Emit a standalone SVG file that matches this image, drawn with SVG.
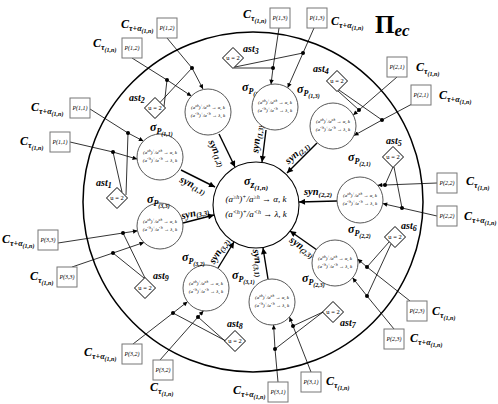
<svg xmlns="http://www.w3.org/2000/svg" xmlns:xlink="http://www.w3.org/1999/xlink" width="498" height="404" viewBox="0 0 498 404">
<style>
text{font-family:"Liberation Serif","DejaVu Serif",serif;fill:#000}
.lbl{font-weight:bold;font-style:italic;font-size:12px}
.s1{font-size:8px}
.s2{font-size:6px}
.syn{font-weight:bold;font-style:italic;font-size:10.5px;text-anchor:middle}
.ss{font-size:7px}
.ast{font-weight:bold;font-style:italic;font-size:10px}
.box{fill:#fff;stroke:#777;stroke-width:1}
.bt{font-style:italic;font-size:6px;text-anchor:middle}
.dia{fill:#fff;stroke:#000;stroke-width:1}
.dt{font-size:6.5px;text-anchor:middle}
.sc{fill:#fff;stroke:#444;stroke-width:0.9}
.rt{font-style:italic;font-size:5px;text-anchor:middle}
.sp{font-size:3.4px}
.ln{fill:none;stroke:#000;stroke-width:0.8}
.sy{fill:none;stroke:#000;stroke-width:1.4}
.dot{fill:#000}
</style>
<defs>
<marker id="ah" viewBox="0 0 10 10" refX="10" refY="5" markerWidth="6" markerHeight="4.5" orient="auto" markerUnits="userSpaceOnUse"><path d="M0,0 L10,5 L0,10 z" fill="#000"/></marker>
<marker id="ahb" viewBox="0 0 10 10" refX="10" refY="5" markerWidth="8" markerHeight="6" orient="auto" markerUnits="userSpaceOnUse"><path d="M0,0 L10,5 L0,10 z" fill="#000"/></marker>
<g id="rules">
<text class="rt" y="-3">(a<tspan class="sp" dy="-1.6">≥h</tspan><tspan dy="1.6">)</tspan><tspan class="sp" dy="-1.6">+</tspan><tspan dy="1.6">/a</tspan><tspan class="sp" dy="-1.6">≥h</tspan><tspan dy="1.6"> → α, k</tspan></text>
<text class="rt" y="5">(a<tspan class="sp" dy="-1.6">&lt;h</tspan><tspan dy="1.6">)</tspan><tspan class="sp" dy="-1.6">+</tspan><tspan dy="1.6">/a</tspan><tspan class="sp" dy="-1.6">&lt;h</tspan><tspan dy="1.6"> → λ, k</tspan></text>
</g>
</defs>

<rect width="498" height="404" fill="#fff"/>

<g id="membrane">
<circle cx="253" cy="202" r="170" fill="none" stroke="#000" stroke-width="1.5"/>
<text x="375" y="33" font-weight="bold" font-size="25">Π<tspan font-style="italic" font-size="17" dy="3">ec</tspan></text>
</g>

<g id="connectors">
<polyline class="ln" points="90,109 128,133 143.4,141.1" marker-end="url(#ah)"/>
<polyline class="ln" points="70,142 113,152 137.1,159.1" marker-end="url(#ah)"/>
<polyline class="ln" points="132,58 167,80 191.4,96" marker-end="url(#ah)"/>
<polyline class="ln" points="167,38 192,68 203,89" marker-end="url(#ah)"/>
<polyline class="ln" points="279,28 273,68 271,84.3" marker-end="url(#ah)"/>
<polyline class="ln" points="314,28 303,53 287.7,87.7" marker-end="url(#ah)"/>
<polyline class="ln" points="397,77 359,110 353.2,115.1" marker-end="url(#ah)"/>
<polyline class="ln" points="412,104 382,120 354,135.5" marker-end="url(#ah)"/>
<polyline class="ln" points="437,183 385,185 377.7,185.3" marker-end="url(#ah)"/>
<polyline class="ln" points="437,216 402,208 382.7,203.6" marker-end="url(#ah)"/>
<polyline class="ln" points="410,301 367,267 357.7,259.1" marker-end="url(#ah)"/>
<polyline class="ln" points="394,329 367,296 352.6,277.8" marker-end="url(#ah)"/>
<polyline class="ln" points="278,382 275,349 273.6,325" marker-end="url(#ah)"/>
<polyline class="ln" points="311,372 293,326 289.5,317" marker-end="url(#ah)"/>
<polyline class="ln" points="133,344 173,313 187.5,301.7" marker-end="url(#ah)"/>
<polyline class="ln" points="160,360 198,317 203.4,310.9" marker-end="url(#ah)"/>
<polyline class="ln" points="58,243 123,233 137.5,230.8" marker-end="url(#ah)"/>
<polyline class="ln" points="72,267 113,253 144,242.4" marker-end="url(#ah)"/>

<line class="ln" x1="126" y1="195" x2="128" y2="133"/>
<line class="ln" x1="122" y1="192" x2="113" y2="152"/>
<line class="ln" x1="164" y1="106.5" x2="167" y2="80"/>
<line class="ln" x1="160" y1="102.5" x2="192" y2="68"/>
<line class="ln" x1="234" y1="68" x2="273" y2="68"/>
<line class="ln" x1="235" y1="67" x2="303" y2="53"/>
<line class="ln" x1="338" y1="91" x2="359" y2="110"/>
<line class="ln" x1="339" y1="90" x2="382" y2="120"/>
<line class="ln" x1="393" y1="167" x2="385" y2="185"/>
<line class="ln" x1="394" y1="167" x2="402" y2="208"/>
<line class="ln" x1="389" y1="242" x2="367" y2="267"/>
<line class="ln" x1="391" y1="244" x2="367" y2="296"/>
<line class="ln" x1="323" y1="312" x2="275" y2="349"/>
<line class="ln" x1="323" y1="312" x2="293" y2="326"/>
<line class="ln" x1="225" y1="340.5" x2="173" y2="313"/>
<line class="ln" x1="225" y1="341" x2="198" y2="317"/>
<line class="ln" x1="145" y1="278" x2="123" y2="233"/>
<line class="ln" x1="144" y1="278" x2="113" y2="253"/>

<g class="dot">
<circle cx="128" cy="133" r="2"/><circle cx="113" cy="152" r="2"/>
<circle cx="167" cy="80" r="2"/><circle cx="192" cy="68" r="2"/>
<circle cx="273" cy="68" r="2"/><circle cx="303" cy="53" r="2"/>
<circle cx="359" cy="110" r="2"/><circle cx="382" cy="120" r="2"/>
<circle cx="385" cy="185" r="2"/><circle cx="402" cy="208" r="2"/>
<circle cx="367" cy="267" r="2"/><circle cx="367" cy="296" r="2"/>
<circle cx="275" cy="349" r="2"/><circle cx="293" cy="326" r="2"/>
<circle cx="173" cy="313" r="2"/><circle cx="198" cy="317" r="2"/>
<circle cx="123" cy="233" r="2"/><circle cx="113" cy="253" r="2"/>
</g>

<line class="sy" x1="181" y1="170" x2="215" y2="187" marker-end="url(#ahb)"/>
<line class="sy" x1="219" y1="134" x2="235" y2="167" marker-end="url(#ahb)"/>
<line class="sy" x1="266" y1="130" x2="262" y2="162" marker-end="url(#ahb)"/>
<line class="sy" x1="317" y1="143" x2="287" y2="173" marker-end="url(#ahb)"/>
<line class="sy" x1="337" y1="201" x2="299" y2="202" marker-end="url(#ahb)"/>
<line class="sy" x1="317" y1="250" x2="290" y2="231" marker-end="url(#ahb)"/>
<line class="sy" x1="268" y1="279" x2="263" y2="248" marker-end="url(#ahb)"/>
<line class="sy" x1="218" y1="268" x2="234" y2="242" marker-end="url(#ahb)"/>
<line class="sy" x1="183" y1="223" x2="214" y2="215" marker-end="url(#ahb)"/>

<text class="syn" transform="translate(193 185) rotate(25)" y="3">syn<tspan class="ss" dy="2">(1,1)</tspan></text>
<text class="syn" transform="translate(217 153) rotate(64)" y="3">syn<tspan class="ss" dy="2">(1,2)</tspan></text>
<text class="syn" transform="translate(257 139) rotate(-83)" y="3">syn<tspan class="ss" dy="2">(1,3)</tspan></text>
<text class="syn" transform="translate(297 153) rotate(-42)" y="3">syn<tspan class="ss" dy="2">(2,1)</tspan></text>
<text class="syn" transform="translate(318 192)" y="3">syn<tspan class="ss" dy="2">(2,2)</tspan></text>
<text class="syn" transform="translate(302 247) rotate(35)" y="3">syn<tspan class="ss" dy="2">(2,3)</tspan></text>
<text class="syn" transform="translate(258 263) rotate(81)" y="3">syn<tspan class="ss" dy="2">(3,1)</tspan></text>
<text class="syn" transform="translate(219 251) rotate(-58)" y="3">syn<tspan class="ss" dy="2">(3,2)</tspan></text>
<text class="syn" transform="translate(195 213) rotate(-14)" y="3">syn<tspan class="ss" dy="2">(3,3)</tspan></text>
</g>

<g id="node-z">
<circle cx="256" cy="205" r="43" fill="#fff" stroke="#000" stroke-width="1.1"/>
<text class="lbl" x="256" y="185" text-anchor="middle" font-size="15">σ<tspan font-size="10" dy="3">z</tspan><tspan font-size="7" dy="2">(1,n)</tspan></text>
<text x="256" y="202" font-style="italic" font-size="9" text-anchor="middle">(a<tspan font-size="6" dy="-3">≥h</tspan><tspan dy="3">)</tspan><tspan font-size="6" dy="-3">+</tspan><tspan dy="3">/a</tspan><tspan font-size="6" dy="-3">≥h</tspan><tspan dy="3"> → α, k</tspan></text>
<text x="256" y="217" font-style="italic" font-size="9" text-anchor="middle">(a<tspan font-size="6" dy="-3">&lt;h</tspan><tspan dy="3">)</tspan><tspan font-size="6" dy="-3">+</tspan><tspan dy="3">/a</tspan><tspan font-size="6" dy="-3">&lt;h</tspan><tspan dy="3"> → λ, k</tspan></text>
</g>

<g id="node-p11"><circle class="sc" cx="160" cy="157" r="23"/><use xlink:href="#rules" x="160" y="157"/>
<text class="lbl" x="150" y="131">σ<tspan class="s1" dy="2.5">P</tspan><tspan class="s2" dy="2">(1,1)</tspan></text></g>
<g id="node-p12"><circle class="sc" cx="208" cy="112" r="23"/><use xlink:href="#rules" x="208" y="112"/>
<text class="lbl" x="242" y="91">σ<tspan class="s1" dy="2.5">P</tspan><tspan class="s2" dy="2">(1,2)</tspan></text></g>
<g id="node-p13"><circle class="sc" cx="275" cy="107" r="23"/><use xlink:href="#rules" x="275" y="107"/>
<text class="lbl" x="297" y="93">σ<tspan class="s1" dy="2.5">P</tspan><tspan class="s2" dy="2">(1,3)</tspan></text></g>
<g id="node-p21"><circle class="sc" cx="333" cy="126" r="23"/><use xlink:href="#rules" x="333" y="126"/>
<text class="lbl" x="348" y="161">σ<tspan class="s1" dy="2.5">P</tspan><tspan class="s2" dy="2">(2,1)</tspan></text></g>
<g id="node-p22"><circle class="sc" cx="360" cy="200" r="23"/><use xlink:href="#rules" x="360" y="200"/>
<text class="lbl" x="348" y="233">σ<tspan class="s1" dy="2.5">P</tspan><tspan class="s2" dy="2">(2,2)</tspan></text></g>
<g id="node-p23"><circle class="sc" cx="335" cy="263" r="23"/><use xlink:href="#rules" x="335" y="263"/>
<text class="lbl" x="302" y="282">σ<tspan class="s1" dy="2.5">P</tspan><tspan class="s2" dy="2">(2,3)</tspan></text></g>
<g id="node-p31"><circle class="sc" cx="272" cy="302" r="23"/><use xlink:href="#rules" x="272" y="302"/>
<text class="lbl" x="232" y="279">σ<tspan class="s1" dy="2.5">P</tspan><tspan class="s2" dy="2">(3,1)</tspan></text></g>
<g id="node-p32"><circle class="sc" cx="206" cy="288" r="23"/><use xlink:href="#rules" x="206" y="288"/>
<text class="lbl" x="182" y="261">σ<tspan class="s1" dy="2.5">P</tspan><tspan class="s2" dy="2">(3,2)</tspan></text></g>
<g id="node-p33"><circle class="sc" cx="160" cy="226" r="23"/><use xlink:href="#rules" x="160" y="226"/>
<text class="lbl" x="147" y="203">σ<tspan class="s1" dy="2.5">P</tspan><tspan class="s2" dy="2">(3,3)</tspan></text></g>

<g id="ast1"><polygon class="dia" points="117,187.5 127.5,198 117,208.5 106.5,198"/><text class="dt" x="117" y="200">u = 2</text><text class="ast" x="96" y="186">ast<tspan class="s1" dy="2">1</tspan></text></g>
<g id="ast2"><polygon class="dia" points="155,97.5 165.5,108 155,118.5 144.5,108"/><text class="dt" x="155" y="110">u = 2</text><text class="ast" x="129" y="101">ast<tspan class="s1" dy="2">2</tspan></text></g>
<g id="ast3"><polygon class="dia" points="233,47.5 243.5,58 233,68.5 222.5,58"/><text class="dt" x="233" y="60">u = 2</text><text class="ast" x="243" y="52">ast<tspan class="s1" dy="2">3</tspan></text></g>
<g id="ast4"><polygon class="dia" points="337,70.5 347.5,81 337,91.5 326.5,81"/><text class="dt" x="337" y="83">u = 2</text><text class="ast" x="313" y="72">ast<tspan class="s1" dy="2">4</tspan></text></g>
<g id="ast5"><polygon class="dia" points="393,146.5 403.5,157 393,167.5 382.5,157"/><text class="dt" x="393" y="159">u = 2</text><text class="ast" x="386" y="144">ast<tspan class="s1" dy="2">5</tspan></text></g>
<g id="ast6"><polygon class="dia" points="395,226.5 405.5,237 395,247.5 384.5,237"/><text class="dt" x="395" y="239">u = 2</text><text class="ast" x="401" y="229">ast<tspan class="s1" dy="2">6</tspan></text></g>
<g id="ast7"><polygon class="dia" points="333,301.5 343.5,312 333,322.5 322.5,312"/><text class="dt" x="333" y="314">u = 2</text><text class="ast" x="340" y="326">ast<tspan class="s1" dy="2">7</tspan></text></g>
<g id="ast8"><polygon class="dia" points="235,330.5 245.5,341 235,351.5 224.5,341"/><text class="dt" x="235" y="343">u = 2</text><text class="ast" x="227" y="327">ast<tspan class="s1" dy="2">8</tspan></text></g>
<g id="ast9"><polygon class="dia" points="145,277.5 155.5,288 145,298.5 134.5,288"/><text class="dt" x="145" y="290">u = 2</text><text class="ast" x="153" y="279">ast<tspan class="s1" dy="2">9</tspan></text></g>

<g id="box-p11a"><rect class="box" x="70" y="98" width="20" height="20"/><text class="bt" x="80" y="110">P(1,1)</text><text class="lbl" x="31" y="111">C<tspan class="s1" dy="2.5">τ+α</tspan><tspan class="s2" dy="2">(1,n)</tspan></text></g>
<g id="box-p11b"><rect class="box" x="50" y="132" width="20" height="20"/><text class="bt" x="60" y="144">P(1,1)</text><text class="lbl" x="20" y="145">C<tspan class="s1" dy="2.5">τ</tspan><tspan class="s2" dy="2">(1,n)</tspan></text></g>
<g id="box-p12a"><rect class="box" x="157" y="18" width="20" height="20"/><text class="bt" x="167" y="30">P(1,2)</text><text class="lbl" x="121" y="28">C<tspan class="s1" dy="2.5">τ+α</tspan><tspan class="s2" dy="2">(1,n)</tspan></text></g>
<g id="box-p12b"><rect class="box" x="122" y="38" width="20" height="20"/><text class="bt" x="132" y="50">P(1,2)</text><text class="lbl" x="93" y="47">C<tspan class="s1" dy="2.5">τ</tspan><tspan class="s2" dy="2">(1,n)</tspan></text></g>
<g id="box-p13b"><rect class="box" x="270" y="8" width="20" height="20"/><text class="bt" x="280" y="20">P(1,3)</text><text class="lbl" x="243" y="18">C<tspan class="s1" dy="2.5">τ</tspan><tspan class="s2" dy="2">(1,n)</tspan></text></g>
<g id="box-p13a"><rect class="box" x="307" y="8" width="20" height="20"/><text class="bt" x="317" y="20">P(1,3)</text><text class="lbl" x="331" y="25">C<tspan class="s1" dy="2.5">τ+α</tspan><tspan class="s2" dy="2">(1,n)</tspan></text></g>
<g id="box-p21b"><rect class="box" x="387" y="57" width="20" height="20"/><text class="bt" x="397" y="69">P(2,1)</text><text class="lbl" x="416" y="71">C<tspan class="s1" dy="2.5">τ</tspan><tspan class="s2" dy="2">(1,n)</tspan></text></g>
<g id="box-p21a"><rect class="box" x="411" y="85" width="20" height="20"/><text class="bt" x="421" y="97">P(2,1)</text><text class="lbl" x="439" y="99">C<tspan class="s1" dy="2.5">τ+α</tspan><tspan class="s2" dy="2">(1,n)</tspan></text></g>
<g id="box-p22b"><rect class="box" x="437" y="173" width="20" height="20"/><text class="bt" x="447" y="185">P(2,2)</text><text class="lbl" x="466" y="185">C<tspan class="s1" dy="2.5">τ</tspan><tspan class="s2" dy="2">(1,n)</tspan></text></g>
<g id="box-p22a"><rect class="box" x="437" y="206" width="20" height="20"/><text class="bt" x="447" y="218">P(2,2)</text><text class="lbl" x="464" y="220">C<tspan class="s1" dy="2.5">τ+α</tspan><tspan class="s2" dy="2">(1,n)</tspan></text></g>
<g id="box-p23b"><rect class="box" x="407" y="301" width="20" height="20"/><text class="bt" x="417" y="313">P(2,3)</text><text class="lbl" x="432" y="315">C<tspan class="s1" dy="2.5">τ</tspan><tspan class="s2" dy="2">(1,n)</tspan></text></g>
<g id="box-p23a"><rect class="box" x="384" y="329" width="20" height="20"/><text class="bt" x="394" y="341">P(2,3)</text><text class="lbl" x="410" y="342">C<tspan class="s1" dy="2.5">τ+α</tspan><tspan class="s2" dy="2">(1,n)</tspan></text></g>
<g id="box-p31a"><rect class="box" x="268" y="382" width="20" height="20"/><text class="bt" x="278" y="394">P(3,1)</text><text class="lbl" x="233" y="394">C<tspan class="s1" dy="2.5">τ+α</tspan><tspan class="s2" dy="2">(1,n)</tspan></text></g>
<g id="box-p31b"><rect class="box" x="301" y="372" width="20" height="20"/><text class="bt" x="311" y="384">P(3,1)</text><text class="lbl" x="326" y="385">C<tspan class="s1" dy="2.5">τ</tspan><tspan class="s2" dy="2">(1,n)</tspan></text></g>
<g id="box-p32a"><rect class="box" x="122" y="344" width="20" height="20"/><text class="bt" x="132" y="356">P(3,2)</text><text class="lbl" x="84" y="356">C<tspan class="s1" dy="2.5">τ+α</tspan><tspan class="s2" dy="2">(1,n)</tspan></text></g>
<g id="box-p32b"><rect class="box" x="153" y="360" width="20" height="20"/><text class="bt" x="163" y="372">P(3,2)</text><text class="lbl" x="150" y="391">C<tspan class="s1" dy="2.5">τ</tspan><tspan class="s2" dy="2">(1,n)</tspan></text></g>
<g id="box-p33a"><rect class="box" x="38" y="230" width="20" height="20"/><text class="bt" x="48" y="242">P(3,3)</text><text class="lbl" x="2" y="243">C<tspan class="s1" dy="2.5">τ+α</tspan><tspan class="s2" dy="2">(1,n)</tspan></text></g>
<g id="box-p33b"><rect class="box" x="57" y="267" width="20" height="20"/><text class="bt" x="67" y="279">P(3,3)</text><text class="lbl" x="30" y="280">C<tspan class="s1" dy="2.5">τ</tspan><tspan class="s2" dy="2">(1,n)</tspan></text></g>
</svg>
